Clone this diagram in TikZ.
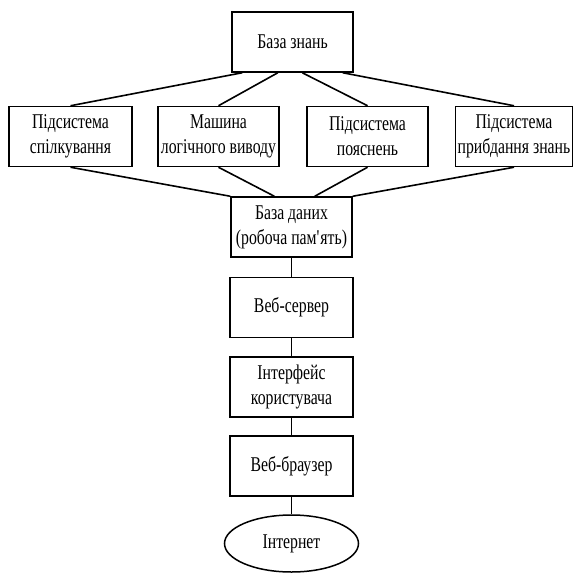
\documentclass[tikz,border=0pt]{standalone}
\usepackage{fontspec}
\setmainfont{Liberation Serif}[FakeStretch=0.75]
\usepackage{tikz}
\usetikzlibrary{shapes.geometric,calc}

\begin{document}
\begin{tikzpicture}[x=0.5pt,y=-0.5pt,line width=0.75pt,
    box/.style={draw,rectangle,align=center,inner sep=1pt,
      minimum width=60.5pt,minimum height=30pt,
      font=\fontsize{10.5}{12.5}\selectfont},
    link/.style={line width=0.8pt}]
  \useasboundingbox (0,0) rectangle (573,573);
  \node[box] (kb) at (292.5,42) {База знань};
  \node[box,minimum width=61.5pt] (s1) at (70.5,136.5) {Підсистема\\спілкування};
  \node[box] (s2) at (218.5,136.5) {Машина\\логічного виводу};
  \node[box] (s3) at (367.5,136.5) {Підсистема\\пояснень};
  \node[box,minimum width=58pt] (s4) at (514,136.5) {Підсистема\\прибдання знань};
  \node[box] (db) at (291.5,227) {База даних\\(робоча пам\textquotesingle ять)};
  \node[box,minimum width=61.5pt] (ws) at (291.5,307.5) {Веб-сервер};
  \node[box,minimum width=61.5pt] (ui) at (291.5,387) {Інтерфейс\\користувача};
  \node[box,minimum width=61.5pt] (wb) at (291.5,466) {Веб-браузер};
  \node[box,ellipse,minimum width=67pt,minimum height=28.5pt] (inet) at (291.5,543.5) {Інтернет};
  \draw[link] ($(kb.south west)!0.09!(kb.south east)$) -- (s1.north);
  \draw[link] ($(kb.south west)!0.38!(kb.south east)$) -- (s2.north);
  \draw[link] ($(kb.south west)!0.58!(kb.south east)$) -- (s3.north);
  \draw[link] ($(kb.south west)!0.91!(kb.south east)$) -- (s4.north);
  \draw[link] (s1.south) -- (db.north west);
  \draw[link] (s2.south) -- ($(db.north west)!0.36!(db.north east)$);
  \draw[link] (s3.south) -- ($(db.north west)!0.69!(db.north east)$);
  \draw[link] (s4.south) -- (db.north east);
  \draw[link] (db.south) -- (ws.north);
  \draw[link] (ws.south) -- (ui.north);
  \draw[link] (ui.south) -- (wb.north);
  \draw[link] (wb.south) -- (inet.north);
\end{tikzpicture}
\end{document}
